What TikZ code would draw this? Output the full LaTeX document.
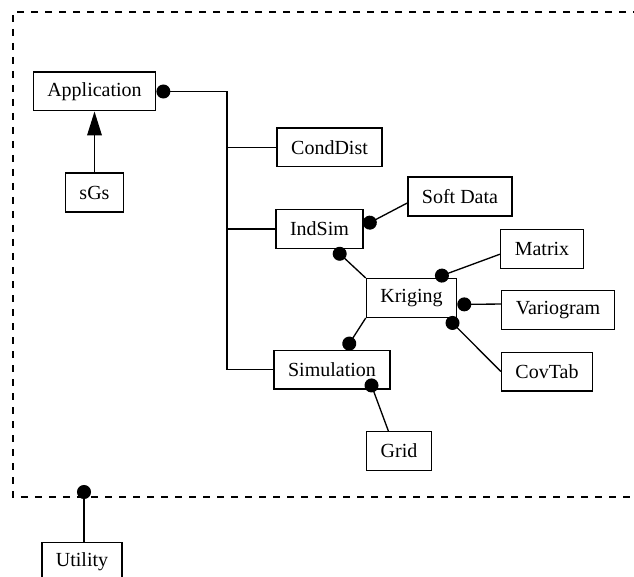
\documentclass[tikz,border=0pt]{standalone}
\usepackage{fontspec}
\setmainfont{Liberation Serif}
\usetikzlibrary{arrows.meta, positioning}

\begin{document}
\begin{tikzpicture}[x=0.75pt, y=-0.75pt,
		font=\fontsize{15}{18}\selectfont,
		box/.style={draw, line width=1pt, minimum height=29pt, inner xsep=10.5pt, inner ysep=0pt},
		link/.style={line width=1pt},
		ball/.style={link, {Circle[length=10.5pt]}-},
		frame/.style={line width=2pt, dash pattern=on 5.6pt off 4.9pt}]
	\useasboundingbox (0,0) rectangle (634,577);
	
	% 虚线框
	\draw[frame] (640,12) -- (13,12) -- (13,497) -- (640,497);
	
	% 左边
	\node[box] (app) at (94.5,91.5) {Application};
	\node[box] (sgs) at (94.5,192.5) {sGs};
	\node[box] (util) at (82,561.5) {Utility};
	\draw[link, -{Triangle[length=18pt, width=11pt]}] (sgs) -- (app);
	\coordinate (pin) at (84,485);
	\draw[ball] (pin) -- (pin |- util.north);
	
	% 中间
	\node[box] (cond) at (329.5,147.5) {CondDist};
	\node[box] (indsim) at (319.5,229) {IndSim};
	\node[box] (sim) at (332,369.5) {Simulation};
	\coordinate (bus) at (227,91.5);
	\draw[ball] (app.east) -- (bus) -- (bus |- sim.west);
	\draw[link] (bus |- cond.west) -- (cond.west);
	\draw[link] (bus |- indsim.west) -- (indsim.west);
	\draw[link] (bus |- sim.west) -- (sim.west);
	
	% 右边
	\node[box] (soft) at (460,196.5) {Soft Data};
	\node[box] (krig) at (411.5,298) {Kriging};
	\node[box] (matrix) at (542,249) {Matrix};
	\node[box] (vario) at (558,310) {Variogram};
	\node[box] (cov) at (547,371.5) {CovTab};
	\node[box] (grid) at (399,451) {Grid};
	\draw[ball] (indsim.4) -- (soft.187);
	\draw[ball] (indsim.307) -- (krig.north west);
	\draw[ball] (sim.56) -- (krig.south west);
	\draw[ball] (krig.40) -- (matrix.187);
	\draw[ball] (krig.352) -- (vario.174);
	\draw[ball] (krig.331) -- (cov.west);
	\draw[ball, shorten <=-8.5pt] (sim.334) -- (grid.118);
\end{tikzpicture}
\end{document}
